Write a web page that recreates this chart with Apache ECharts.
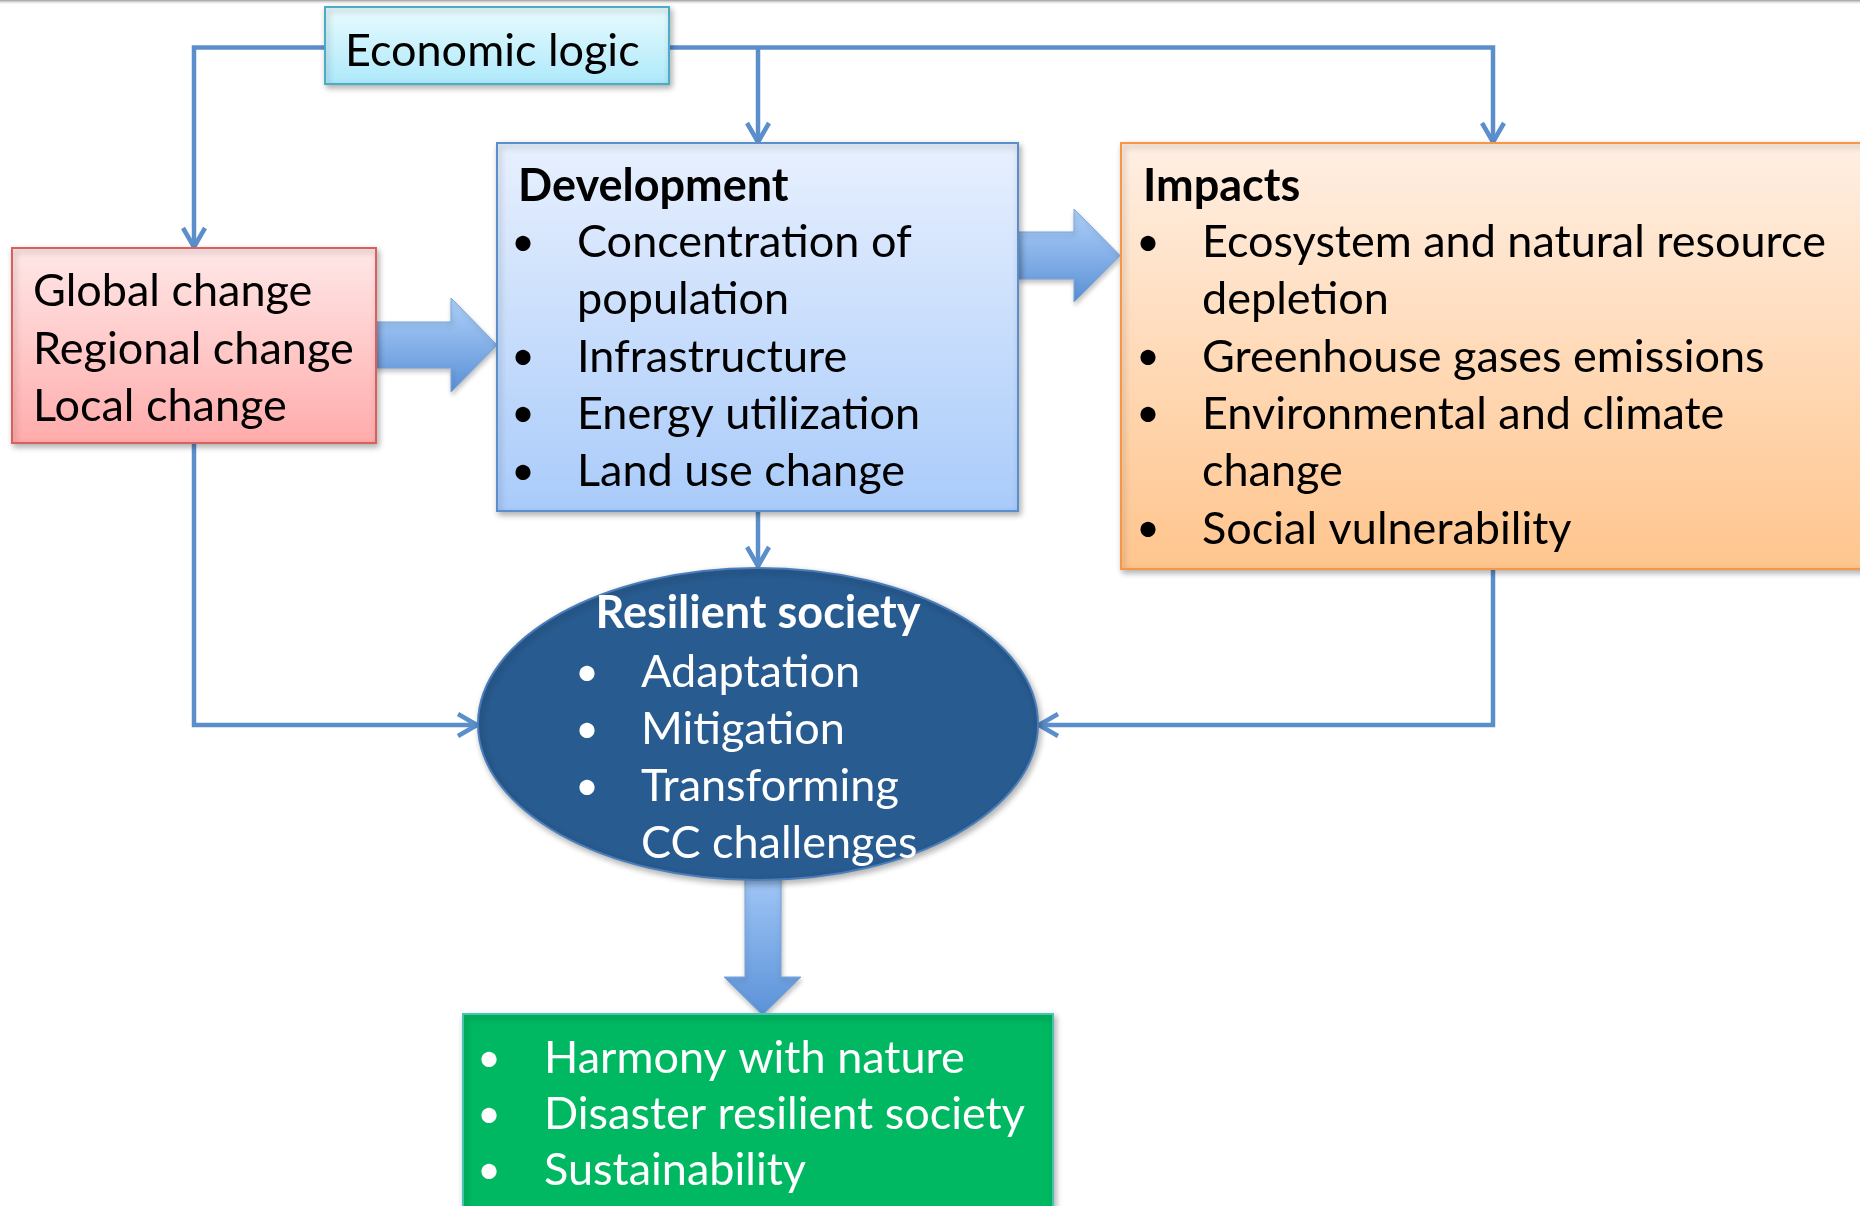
<!DOCTYPE html>
<html>
<head>
<meta charset="utf-8">
<script src="https://cdn.jsdelivr.net/npm/echarts@6/dist/echarts.min.js"></script>
<style>
  html, body { margin: 0; padding: 0; background: #fff; }
  #main { width: 1860px; height: 1206px; }
</style>
</head>
<body>
<div id="main"></div>
<script>
// texts of the diagram
const economicText = 'Economic logic';
const changeLines = ['Global change', 'Regional change', 'Local change'];
const developmentTitle = 'Development';
const developmentItems = [['Concentration of', 'population'], ['Infrastructure'], ['Energy utilization'], ['Land use change']];
const impactsTitle = 'Impacts';
const impactsItems = [['Ecosystem and natural resource', 'depletion'], ['Greenhouse gases emissions'], ['Environmental and climate', 'change'], ['Social vulnerability']];
const resilientTitle = 'Resilient society';
const resilientItems = [['Adaptation'], ['Mitigation'], ['Transforming', 'CC challenges']];
const outcomeItems = [['Harmony with nature'], ['Disaster resilient society'], ['Sustainability']];

const FONT = 'Lato, "Open Sans", sans-serif';
const FS = 45;
const LINE = '#5b8fcb';
const shadow = { shadowBlur: 6, shadowOffsetX: 2, shadowOffsetY: 3, shadowColor: 'rgba(0,0,0,0.3)' };

function grad(top, bottom) {
    return new echarts.graphic.LinearGradient(0, 0, 0, 1, [
        { offset: 0, color: top },
        { offset: 1, color: bottom }
    ]);
}

// text placed on its baseline
function txt(x, baseline, s, color, align, bold, size) {
    return {
        type: 'text',
        x: x,
        y: baseline - FS * 0.3,
        z: 10,
        style: {
            text: s,
            fill: color,
            fontSize: size || FS,
            fontFamily: FONT,
            fontWeight: bold ? 'bold' : 'normal',
            align: align || 'left',
            verticalAlign: 'middle'
        }
    };
}

function bulletList(items, bulletX, textX, firstBaseline, step, color) {
    let els = [];
    let row = 0;
    items.forEach(item => {
        item.forEach((line, k) => {
            let y = firstBaseline + row * step;
            if (k === 0) els.push(txt(bulletX, y, '•', color, 'center', false, FS * 0.9));
            els.push(txt(textX, y, line, color));
            row++;
        });
    });
    return els;
}

function box(x, y, w, h, fill, stroke) {
    return {
        type: 'rect',
        z: 5,
        shape: { x: x, y: y, width: w, height: h },
        style: Object.assign({ fill: fill, stroke: stroke, lineWidth: 2 }, shadow)
    };
}

function connector(points) {
    return {
        type: 'polyline',
        z: 2,
        shape: { points: points },
        style: { stroke: LINE, lineWidth: 4.5, fill: null, lineJoin: 'miter' }
    };
}

// open chevron arrow head, dir: 'down' | 'right' | 'left'
function head(tx, ty, dir) {
    let pts;
    if (dir === 'down') pts = [[tx - 11, ty - 20], [tx, ty - 1], [tx + 11, ty - 20]];
    if (dir === 'right') pts = [[tx - 20, ty - 11], [tx - 1, ty], [tx - 20, ty + 11]];
    if (dir === 'left') pts = [[tx + 20, ty - 11], [tx + 1, ty], [tx + 20, ty + 11]];
    return {
        type: 'polyline',
        z: 3,
        shape: { points: pts },
        style: { stroke: LINE, lineWidth: 4.5, fill: null, lineJoin: 'round' }
    };
}

// fat block arrow
function blockArrow(pts, vertical) {
    return {
        type: 'polygon',
        z: 4,
        shape: { points: pts },
        style: Object.assign({
            fill: vertical ? grad('#a9cdfa', '#5b92d8') : grad('#b0d1fa', '#5a90d6'),
            stroke: '#78a5dd',
            lineWidth: 1
        }, { shadowBlur: 5, shadowOffsetX: 1, shadowOffsetY: 3, shadowColor: 'rgba(0,0,0,0.25)' })
    };
}

let elements = [];

// top frame line
elements.push({
    type: 'rect',
    shape: { x: 0, y: 0, width: 1860, height: 5 },
    style: { fill: grad('#9a9a9a', 'rgba(255,255,255,0)') }
});

// connectors
elements.push(connector([[325, 47.5], [194, 47.5], [194, 246]]));
elements.push(head(194, 248, 'down'));
elements.push(connector([[669, 47.5], [1493, 47.5], [1493, 141]]));
elements.push(head(1493, 143, 'down'));
elements.push(connector([[758, 47.5], [758, 141]]));
elements.push(head(758, 143, 'down'));
elements.push(connector([[758, 511], [758, 565]]));
elements.push(head(758, 567, 'down'));
elements.push(connector([[194, 443], [194, 725], [476, 725]]));
elements.push(head(478, 725, 'right'));
elements.push(connector([[1493, 569], [1493, 725], [1040, 725]]));
elements.push(head(1038, 725, 'left'));

// boxes
elements.push(box(325, 7, 344, 77, grad('#eafbfe', '#ace9fa'), '#4bacc6'));
elements.push(txt(345, 65, economicText, '#000'));

elements.push(box(12, 248, 364, 195, grad('#ffe8e8', '#ffabab'), '#d9605c'));
changeLines.forEach((s, i) => elements.push(txt(33, 305 + i * 57.5, s, '#000')));

elements.push(box(497, 143, 521, 368, grad('#e8f0fe', '#a9cbfa'), '#5b8fcb'));
elements.push(txt(518, 200, developmentTitle, '#000', 'left', true));
elements = elements.concat(bulletList(developmentItems, 523, 577, 256, 57.3, '#000'));

elements.push(box(1121, 143, 760, 426, grad('#ffefe3', '#ffc58d'), '#f79646'));
elements.push(txt(1143, 200, impactsTitle, '#000', 'left', true));
elements = elements.concat(bulletList(impactsItems, 1148, 1202, 256, 57.3, '#000'));

// block arrows
elements.push(blockArrow([[376, 322], [451, 322], [451, 298], [497, 345], [451, 392], [451, 368], [376, 368]], false));
elements.push(blockArrow([[1018, 232], [1074, 232], [1074, 209], [1120, 255.5], [1074, 302], [1074, 279], [1018, 279]], false));
elements.push(blockArrow([[745, 860], [781, 860], [781, 977], [801, 977], [762.5, 1015], [724, 977], [745, 977]], true));

// resilient society ellipse
elements.push({
    type: 'ellipse',
    z: 6,
    shape: { cx: 758, cy: 724, rx: 280, ry: 156 },
    style: Object.assign({ fill: '#285b90', stroke: '#4a7ebb', lineWidth: 2 }, shadow)
});
elements.push(txt(758, 627, resilientTitle, '#fff', 'center', true));
elements = elements.concat(bulletList(resilientItems, 587, 641, 686, 57, '#fff'));

// outcome box
elements.push(box(463, 1014, 590, 230, '#00b862', '#45c4b0'));
elements = elements.concat(bulletList(outcomeItems, 489, 544, 1072, 56, '#fff'));

let chart = echarts.init(document.getElementById('main'));
chart.setOption({
    animation: false,
    graphic: { elements: elements }
});
</script>
</body>
</html>
